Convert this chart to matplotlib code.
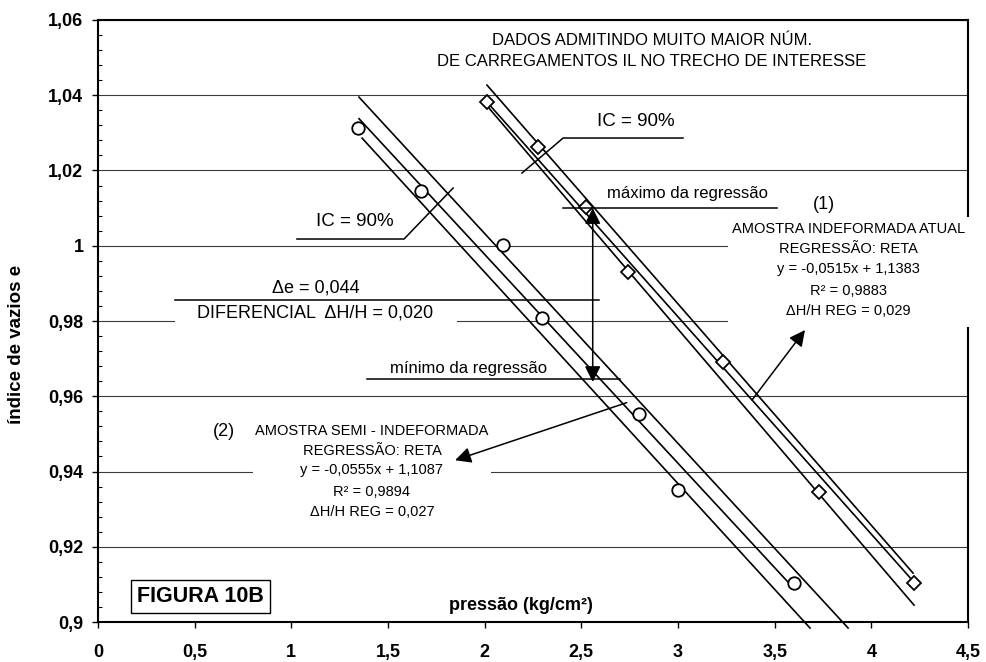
import numpy as np
import matplotlib
matplotlib.use("Agg")
import matplotlib.pyplot as plt
from matplotlib.patches import Rectangle
from matplotlib.ticker import FuncFormatter, MultipleLocator

plt.rcParams['font.family'] = ['Liberation Sans', 'DejaVu Sans']

# amostra (2) semi-indeformada - circulos
p_semi = [1.345, 1.671, 2.095, 2.297, 2.799, 3.000, 3.600]
e_semi = [1.0313, 1.0145, 1.0002, 0.9808, 0.9553, 0.9351, 0.9103]
slope_semi, icpt_semi = -0.0555, 1.1087
p_semi_range = [1.35, 3.60]
# limites do IC = 90%
semi_upper_p = [1.350, 3.880]
semi_upper_e = [1.0395, 0.8984]
semi_lower_p = [1.366, 3.683]
semi_lower_e = [1.0286, 0.8984]

# amostra (1) indeformada atual - losangos
p_indef = [2.012, 2.276, 2.525, 2.742, 3.233, 3.730, 4.220]
e_indef = [1.0382, 1.0262, 1.0103, 0.9930, 0.9691, 0.9345, 0.9103]
indef_mid_p = [2.012, 4.226]
indef_mid_e = [1.0382, 0.9103]
indef_upper_p = [2.012, 4.216]
indef_upper_e = [1.0427, 0.9130]
indef_lower_p = [2.012, 4.221]
indef_lower_e = [1.0372, 0.9045]

x_ticks = [0, 0.5, 1, 1.5, 2, 2.5, 3, 3.5, 4, 4.5]
y_ticks = [0.90, 0.92, 0.94, 0.96, 0.98, 1.00, 1.02, 1.04, 1.06]


def virgula(v, pos):
    s = f"{v:.2f}".rstrip('0').rstrip('.')
    return s.replace('.', ',')


fig = plt.figure(figsize=(9.86, 6.62), dpi=100)
ax = fig.add_axes([0.0994, 0.0604, 0.8823, 0.9094])
ax.set_xlim(0, 4.5)
ax.set_ylim(0.9, 1.06)

ax.set_xticks(x_ticks)
ax.set_yticks(y_ticks)
ax.xaxis.set_major_formatter(FuncFormatter(virgula))
ax.yaxis.set_major_formatter(FuncFormatter(virgula))
ax.yaxis.set_minor_locator(MultipleLocator(0.004))
ax.tick_params(axis='both', which='major', direction='out', length=4.5, width=1,
               labelsize=13)
ax.tick_params(axis='x', pad=11)
ax.tick_params(axis='y', pad=6)
ax.tick_params(axis='y', which='minor', direction='in', length=3, width=0.8)
for lab in ax.get_xticklabels() + ax.get_yticklabels():
    lab.set_fontweight('bold')
for sp in ax.spines.values():
    sp.set_linewidth(1.5)

ax.set_axisbelow(True)
ax.yaxis.grid(True, color='#3a3a3a', lw=0.8)

# caixas brancas que interrompem as linhas de grade
ax.add_patch(Rectangle((3.259, 0.9784), 1.30, 0.0292, facecolor='white',
                       edgecolor='none', zorder=2.6, clip_on=False))
ax.add_patch(Rectangle((0.802, 0.9266), 1.231, 0.0276, facecolor='white',
                       edgecolor='none', zorder=2.6))
ax.add_patch(Rectangle((0.398, 0.9776), 1.459, 0.0066, facecolor='white',
                       edgecolor='none', zorder=2.6))

lw = 1.2
# amostra 2
xs = np.array(p_semi_range)
ax.plot(xs, slope_semi * xs + icpt_semi, color='black', lw=lw, zorder=3)
ax.plot(semi_upper_p, semi_upper_e, color='black', lw=lw, zorder=3, clip_on=False)
ax.plot(semi_lower_p, semi_lower_e, color='black', lw=lw, zorder=3, clip_on=False)
ax.plot(p_semi, e_semi, 'o', ms=9, mfc='white', mec='black', mew=1.3, zorder=4)
# amostra 1
ax.plot(indef_mid_p, indef_mid_e, color='black', lw=lw, zorder=3)
ax.plot(indef_upper_p, indef_upper_e, color='black', lw=lw, zorder=3)
ax.plot(indef_lower_p, indef_lower_e, color='black', lw=lw, zorder=3)
ax.plot(p_indef, e_indef, 'D', ms=7.5, mfc='white', mec='black', mew=1.3, zorder=4)

# linhas de chamada
k = dict(color='black', lw=1.1, zorder=4)
ax.plot([1.029, 1.583, 1.837], [1.00179, 1.00179, 1.01534], **k)
ax.plot([3.026, 2.406, 2.193], [1.02863, 1.02863, 1.01933], **k)
ax.plot([2.406, 3.513], [1.01003, 1.01003], **k)
ax.plot([1.392, 2.700], [0.96457, 0.96457], **k)
ax.plot([0.398, 2.592], [0.98556, 0.98556], **k)

arr = dict(arrowstyle='-|>', color='black', lw=1.1, mutation_scale=24,
           shrinkA=0, shrinkB=0)
ax.annotate('', xy=(2.559, 1.0100), xytext=(2.559, 0.9638),
            arrowprops=dict(arr, arrowstyle='<|-|>'), zorder=5)
ax.annotate('', xy=(3.657, 0.9776), xytext=(3.383, 0.9590), arrowprops=arr, zorder=5)
ax.annotate('', xy=(1.847, 0.9430), xytext=(2.735, 0.9583), arrowprops=arr, zorder=5)

# textos
t = dict(ha='center', va='center', zorder=5)
ax.text(2.866, 1.05468, 'DADOS ADMITINDO MUITO MAIOR NÚM.', fontsize=12, **t)
ax.text(2.866, 1.04884, 'DE CARREGAMENTOS IL NO TRECHO DE INTERESSE', fontsize=12, **t)
ax.text(2.783, 1.03315, 'IC = 90%', fontsize=13.5, **t)
ax.text(1.330, 1.00657, 'IC = 90%', fontsize=13.5, **t)
ax.text(3.047, 1.0140, 'máximo da regressão', fontsize=12, **t)
ax.text(1.919, 0.9675, 'mínimo da regressão', fontsize=12, **t)
ax.text(1.128, 0.98876, 'Δe = 0,044', fontsize=13, **t)
ax.text(1.125, 0.98212, 'DIFERENCIAL  ΔH/H = 0,020', fontsize=13, **t)

ax.text(3.756, 1.01109, '(1)', fontsize=13, **t)
box1 = ['AMOSTRA INDEFORMADA ATUAL', 'REGRESSÃO: RETA', 'y = -0,0515x + 1,1383',
        'R² = 0,9883', 'ΔH/H REG = 0,029']
for txt, yy in zip(box1, [1.00444, 0.99913, 0.99381, 0.98796, 0.98265]):
    ax.text(3.880, yy, txt, fontsize=10.5, **t)

ax.text(0.652, 0.95075, '(2)', fontsize=13, **t)
box2 = ['AMOSTRA SEMI - INDEFORMADA', 'REGRESSÃO: RETA', 'y = -0,0555x + 1,1087',
        'R² = 0,9894', 'ΔH/H REG = 0,027']
for txt, yy in zip(box2, [0.95075, 0.94543, 0.94038, 0.93453, 0.92922]):
    ax.text(1.417, yy, txt, fontsize=10.5, **t)

ax.text(0.530, 0.90676, 'FIGURA 10B', fontsize=15.5, fontweight='bold',
        bbox=dict(facecolor='white', edgecolor='black', lw=1, pad=4), **t)
ax.text(2.188, 0.9045, 'pressão (kg/cm²)', fontsize=13, fontweight='bold', **t)
fig.text(0.017, 0.479, 'índice de vazios e', rotation=90, fontsize=13.5,
         fontweight='bold', ha='center', va='center')

fig.savefig('out.png', dpi=100)
